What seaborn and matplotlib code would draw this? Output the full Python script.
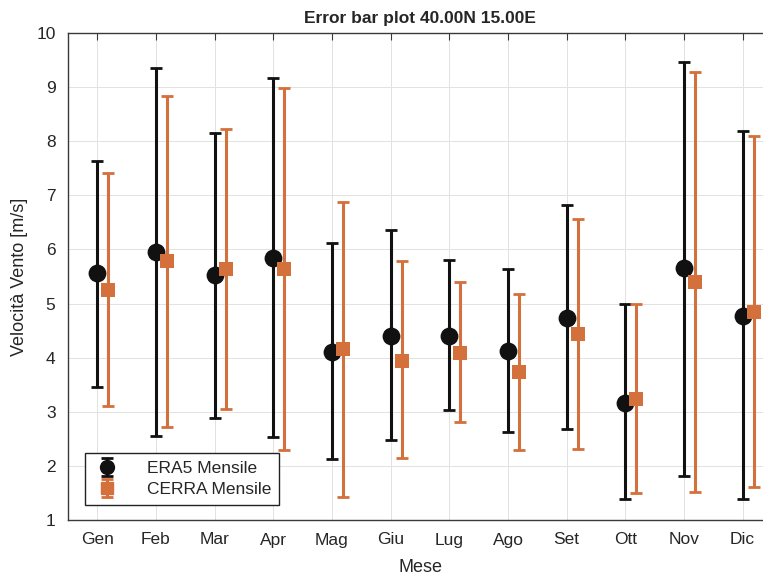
import matplotlib
matplotlib.use("Agg")
import matplotlib.pyplot as plt
import seaborn as sns
import numpy as np
import pandas as pd

months = ["Gen", "Feb", "Mar", "Apr", "Mag", "Giu", "Lug", "Ago", "Set", "Ott", "Nov", "Dic"]
era5_mean = [5.56, 5.95, 5.53, 5.85, 4.11, 4.40, 4.40, 4.12, 4.74, 3.17, 5.65, 4.77]
era5_high = [7.64, 9.35, 8.16, 9.16, 6.12, 6.36, 5.80, 5.64, 6.82, 4.99, 9.47, 8.19]
era5_low = [3.46, 2.56, 2.88, 2.54, 2.12, 2.48, 3.03, 2.62, 2.69, 1.38, 1.82, 1.38]
cerra_mean = [5.25, 5.79, 5.64, 5.64, 4.16, 3.94, 4.09, 3.74, 4.43, 3.23, 5.39, 4.85]
cerra_high = [7.41, 8.84, 8.22, 8.99, 6.88, 5.79, 5.40, 5.17, 6.56, 4.99, 9.28, 8.10]
cerra_low = [3.11, 2.72, 3.06, 2.29, 1.43, 2.14, 2.81, 2.29, 2.32, 1.49, 1.51, 1.61]

sns.set_style("whitegrid")
plt.rcParams['font.family'] = ['Liberation Sans', 'DejaVu Sans']

black = "#111111"
orange = "#D4703C"

fig = plt.figure(figsize=(7.63, 5.82), dpi=100)
ax = fig.add_axes([68/763, 62/582, 704/763, 487/582])

x = np.arange(1, 13)
xc = x + 0.19

df_e = pd.DataFrame({"x": x, "y": era5_mean})
df_c = pd.DataFrame({"x": xc, "y": cerra_mean})

em = np.array(era5_mean); cm = np.array(cerra_mean)
eb1 = ax.errorbar(x, em, yerr=[em - np.array(era5_low), np.array(era5_high) - em],
                  fmt='none', ecolor=black, elinewidth=2.2, capsize=4.5, capthick=2, zorder=2)
eb2 = ax.errorbar(xc, cm, yerr=[cm - np.array(cerra_low), np.array(cerra_high) - cm],
                  fmt='none', ecolor=orange, elinewidth=2.2, capsize=4.5, capthick=2, zorder=2)

sns.scatterplot(data=df_e, x="x", y="y", ax=ax, marker='o', s=165, color=black,
                edgecolor=black, linewidth=0, zorder=3, legend=False)
sns.scatterplot(data=df_c, x="x", y="y", ax=ax, marker='s', s=115, color=orange,
                edgecolor=orange, linewidth=0, zorder=3, legend=False)

from matplotlib.lines import Line2D
m1 = Line2D([], [], marker='o', color=black, linestyle='none', markersize=10)
m2 = Line2D([], [], marker='s', color=orange, linestyle='none', markersize=9)
leg = ax.legend([(eb1, m1), (eb2, m2)], ["ERA5 Mensile", "CERRA Mensile"],
                loc='lower left', bbox_to_anchor=(0.012, 0.013), fontsize=12.5,
                frameon=True, fancybox=False, edgecolor='#222222', framealpha=1,
                handlelength=1.6, borderpad=0.45, labelspacing=0.35, handletextpad=1.5)
leg.get_frame().set_linewidth(1.0)

ax.set_xlim(0.5, 12.5)
ax.set_ylim(1, 10)
ax.set_xticks(x)
ax.set_xticklabels(months)
ax.set_yticks(range(1, 11))
ax.grid(True, color='#e2e2e2', linewidth=0.7)
for s in ax.spines.values():
    s.set_color('#3a3a3a')
    s.set_linewidth(1.0)
ax.tick_params(axis='both', direction='in', length=5, width=0.8, color='#3a3a3a',
               labelsize=12.5, labelcolor='#262626', top=True, right=True, pad=9)
ax.set_xlabel("Mese", fontsize=13, color='#262626', labelpad=8)
ax.set_ylabel("Velocità Vento [m/s]", fontsize=13, color='#262626', labelpad=6)
ax.set_title("Error bar plot 40.00N 15.00E", fontsize=12.5, fontweight='bold', pad=7)

fig.savefig("out.png", dpi=100)
